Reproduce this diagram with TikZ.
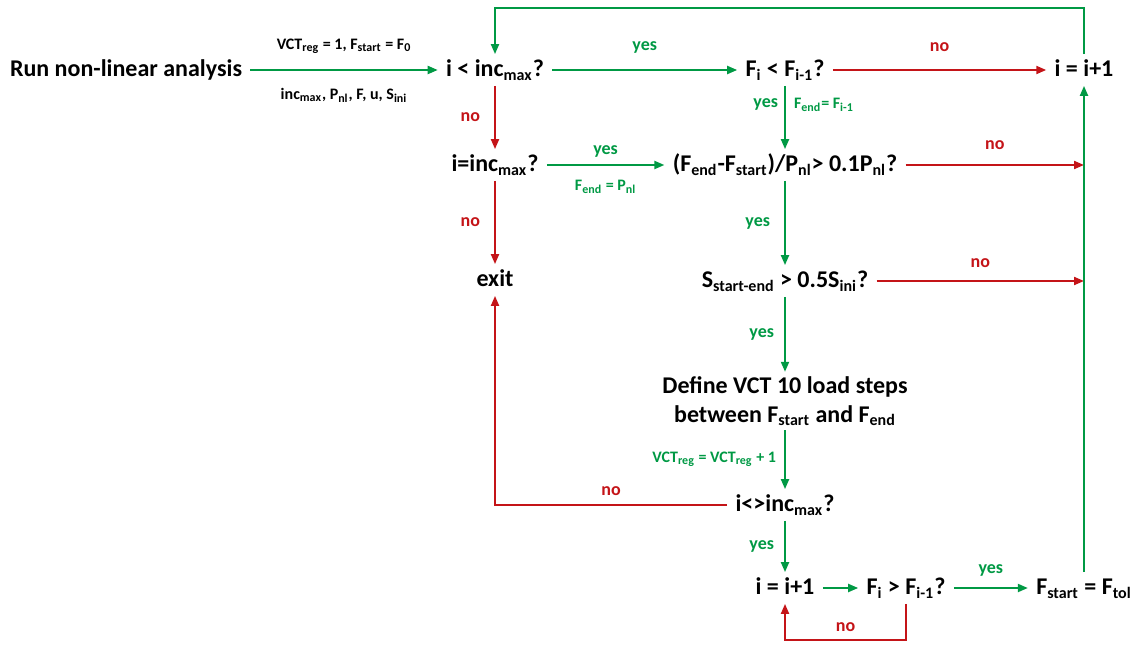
\documentclass[tikz,border=0pt]{standalone}
\usepackage{fontspec}
\setmainfont{Carlito}
\usetikzlibrary{arrows.meta,calc}
\definecolor{yesgreen}{RGB}{0,153,68}
\definecolor{nored}{RGB}{196,20,24}
\newcommand{\low}[1]{\textsubscript{#1}}

\begin{document}
\begin{tikzpicture}[x=0.5pt, y=-0.5pt, >={Triangle[length=5pt,width=4pt]},
    box/.style={font=\fontsize{12}{14}\selectfont\bfseries, inner xsep=4pt, inner ysep=2pt, text height=9pt, text depth=2.5pt},
    twoline/.style={font=\fontsize{12}{14.5}\selectfont\bfseries, align=center, inner xsep=4pt, inner ysep=2pt},
    lab/.style={font=\fontsize{9}{11}\selectfont\bfseries, inner sep=1pt},
    sublab/.style={font=\fontsize{8}{10}\selectfont\bfseries, inner sep=1pt},
    yesline/.style={->, yesgreen, line width=1pt},
    noline/.style={->, nored, line width=1pt}]
    \useasboundingbox (0,0) rectangle (1136,647);

    \node[box] (run) at (126,70) {Run non-linear analysis};
    \node[box] (chkmax) at (495,70) {i < inc\low{max}?};
    \node[box] (chkF) at (785,70) {F\low{i} < F\low{i-1}?};
    \node[box] (incA) at (1084,70) {i = i+1};
    \node[box] (eqmax) at (495,165) {i=inc\low{max}?};
    \node[box] (ratio) at (785,165) {(F\low{end}-F\low{start})/P\low{nl}> 0.1P\low{nl}?};
    \node[box] (exit) at (495,280) {exit};
    \node[box] (stiff) at (785,281) {S\low{start-end} > 0.5S\low{ini}?};
    \node[twoline] (define) at (785,401) {Define VCT 10 load steps\\between F\low{start} and F\low{end}};
    \node[box] (nemax) at (785,505) {i<>inc\low{max}?};
    \node[box] (incB) at (785,588) {i = i+1};
    \node[box] (chkG) at (906,588) {F\low{i} > F\low{i-1}?};
    \node[box] (fstart) at (1084,588) {F\low{start} = F\low{tol}};
    \coordinate (top) at (0,8);

    \draw[yesline] (run) -- (chkmax)
        node[sublab, text=black, midway, yshift=12pt] {VCT\low{reg} = 1, F\low{start} = F\low{0}}
        node[sublab, text=black, midway, yshift=-12.5pt] {inc\low{max}, P\low{nl}, F, u, S\low{ini}};
    \draw[yesline] (chkmax) -- (chkF) node[lab, midway, yshift=11.5pt] {yes};
    \draw[noline] (chkF) -- (incA) node[lab, midway, yshift=11.5pt] {no};
    \draw[yesline] (incA) -- (incA |- top) -| (chkmax.north);

    \draw[noline] (chkmax) -- (eqmax) node[lab, midway, left=6pt] {no};
    \draw[yesline] (chkF) -- (ratio)
        node[lab, pos=0.3, left=2pt] {yes}
        node[sublab, pos=0.3, right=3pt] {F\low{end}= F\low{i-1}};
    \draw[yesline] (eqmax) -- (ratio)
        node[lab, midway, yshift=7pt] {yes}
        node[sublab, midway, yshift=-11pt] {F\low{end} = P\low{nl}};
    \draw[noline] (ratio) -- (ratio -| incA) node[lab, midway, yshift=10pt] {no};

    \draw[noline] (eqmax) -- (exit) node[lab, midway, left=6pt] {no};
    \draw[yesline] (ratio) -- (stiff) node[lab, midway, left=6pt] {yes};
    \draw[noline] (stiff) -- (stiff -| incA) node[lab, midway, yshift=9pt] {no};
    \draw[yesline] (stiff) -- (define) node[lab, midway, left=4pt] {yes};
    \draw[yesline] (define) -- (nemax) node[sublab, midway, left=3pt] {VCT\low{reg} = VCT\low{reg} + 1};
    \draw[noline] (nemax) -| (exit) node[lab, pos=0.25, yshift=7pt] {no};

    \draw[yesline] (nemax) -- (incB) node[lab, midway, left=4pt] {yes};
    \draw[yesline] (incB) -- (chkG);
    \draw[yesline] (chkG) -- (fstart) node[lab, midway, yshift=9pt] {yes};
    \draw[yesline] (fstart) -- (incA);
    \draw[noline] (chkG.south) -- ++(0,36) -| (incB.south) node[lab, pos=0.25, yshift=6.5pt] {no};
\end{tikzpicture}
\end{document}
